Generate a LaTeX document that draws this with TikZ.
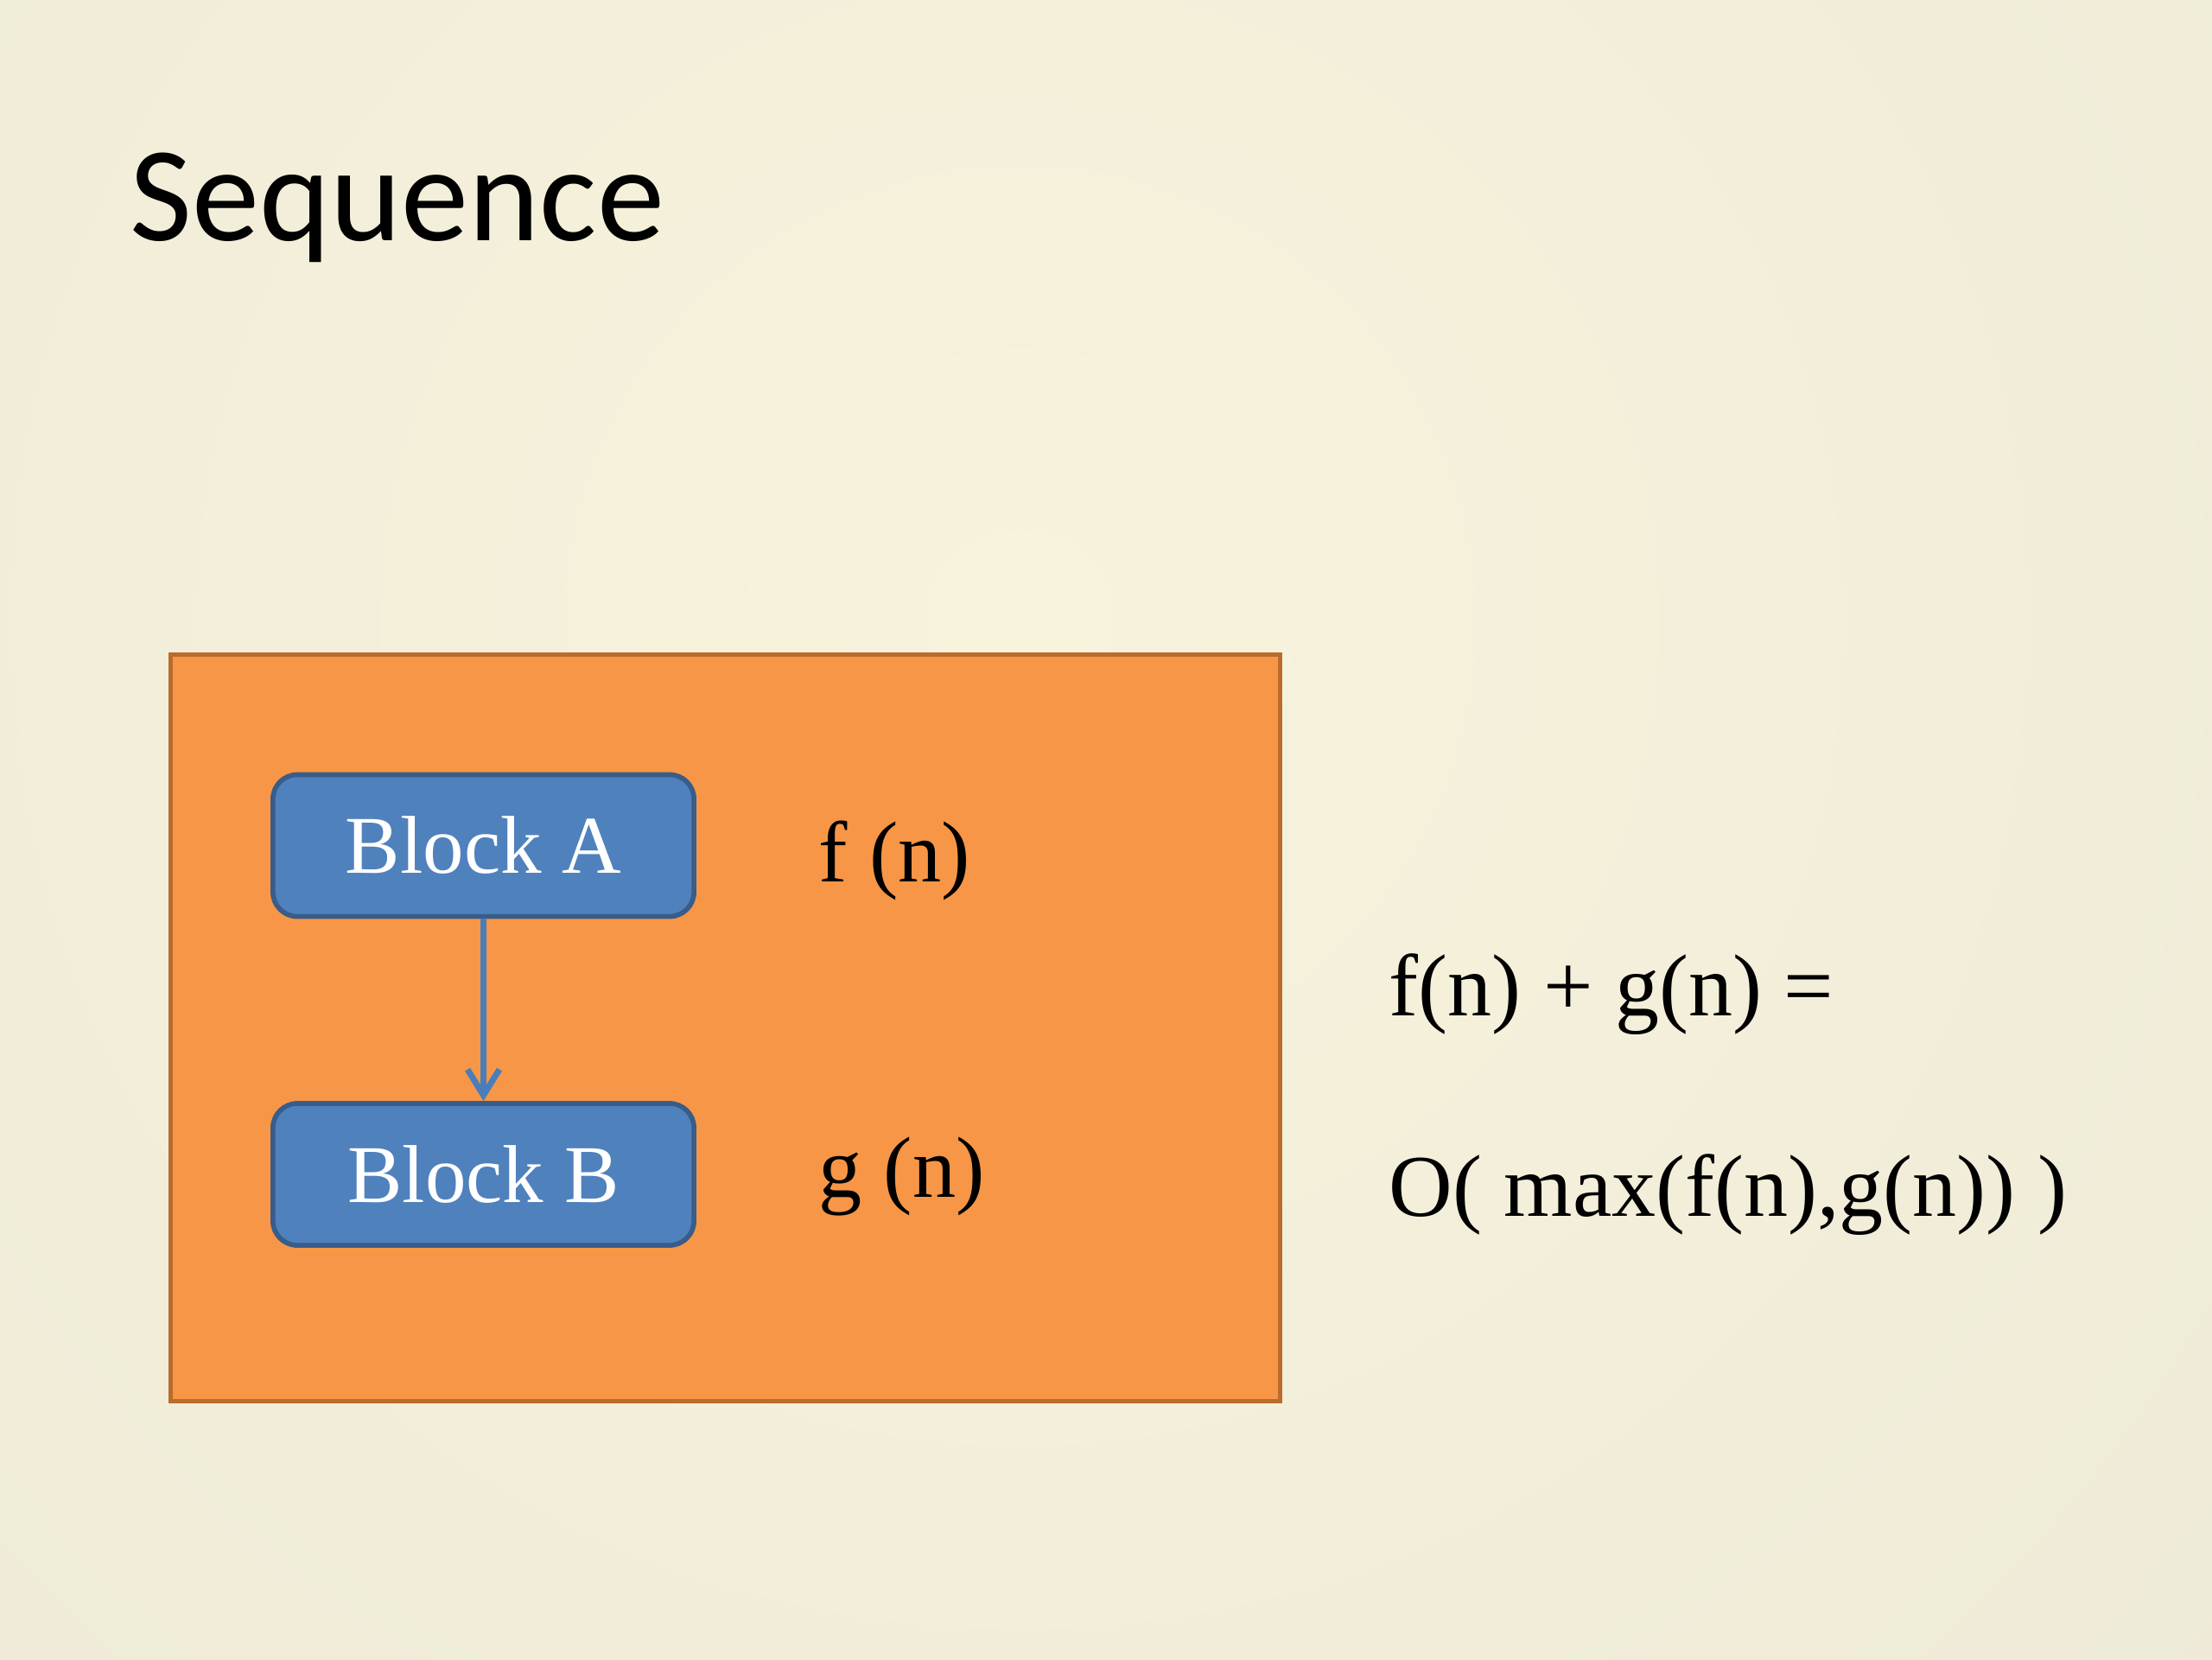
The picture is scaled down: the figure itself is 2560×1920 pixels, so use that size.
\documentclass[tikz,border=0pt]{standalone}
\usepackage{fontspec}
\setmainfont{Liberation Serif}
\newfontfamily\titlefont{Carlito}
\usetikzlibrary{arrows.meta}
\definecolor{bgin}{HTML}{F8F3DC}
\definecolor{bgout}{HTML}{E4E2D3}
\definecolor{orfill}{HTML}{F79646}
\definecolor{ordraw}{HTML}{B96C2C}
\definecolor{blfill}{HTML}{4F81BD}
\definecolor{bldraw}{HTML}{385D8A}
\definecolor{arrowcol}{HTML}{4A7EBB}
\begin{document}
\begin{tikzpicture}[x=0.01cm,y=-0.01cm,
  framebox/.style={draw=ordraw, fill=orfill, line width=1.4pt, inner sep=0pt},
  blockbox/.style={draw=bldraw, fill=blfill, line width=1.6pt, rounded corners=8pt,
    minimum width=48.7mm, minimum height=16.4mm, inner sep=0pt, text=white,
    font=\fontsize{27}{32}\selectfont},
  label/.style={anchor=base west, inner sep=0pt, font=\fontsize{29}{34}\selectfont},
  flow/.style={draw=arrowcol, line width=2pt, -{Straight Barb[length=8.5pt,width=10.5pt,line width=2pt]}}]
\useasboundingbox (0,0) rectangle (2560,1920);
\begin{scope}
  \clip (0,0) rectangle (2560,1920);
  \shade[inner color=bgin, outer color=bgout] (1180,720) circle (3600);
\end{scope}
\node[anchor=base west, inner sep=0pt, font=\titlefont\fontsize{44.5}{52}\selectfont] (title) at (150,278) {Sequence};
\node[framebox, minimum width=128.3mm, minimum height=86.3mm] (frame) at (839.5,1189.5) {};
\node[blockbox] (A) at (559.5,978.5) {Block A};
\node[blockbox] (B) at (559.5,1359) {Block B};
\draw[flow] (A) -- (B);
\node[label, font=\fontsize{28.5}{34}\selectfont] (fn) at (947,1020) {f (n)};
\node[label, font=\fontsize{28.5}{34}\selectfont] (gn) at (947,1385) {g (n)};
\node[label] (sum) at (1607,1175) {f(n) + g(n) =};
\node[label] (big) at (1607,1407) {O( max(f(n),g(n)) )};
\end{tikzpicture}
\end{document}
